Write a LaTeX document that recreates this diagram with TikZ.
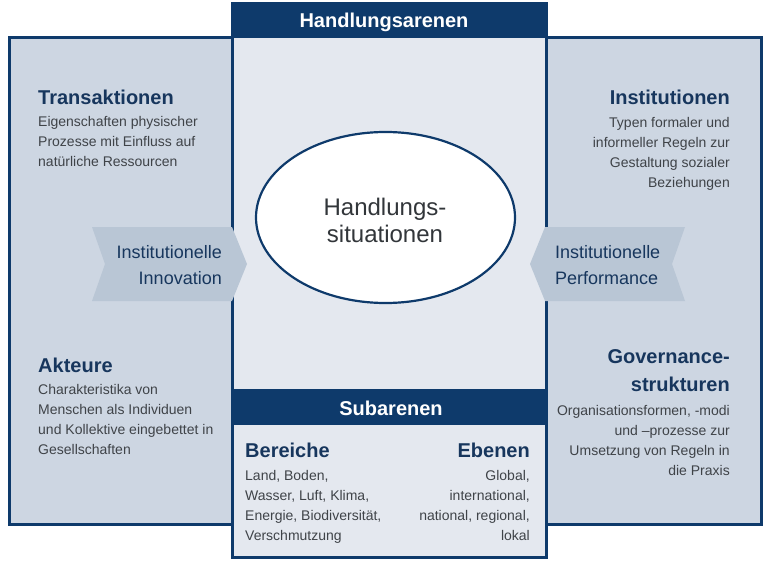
\documentclass[tikz,border=0pt]{standalone}
\usepackage{fontspec}
\setmainfont{Liberation Sans}
\definecolor{navy}{HTML}{0E3A6B}
\definecolor{outerfill}{HTML}{CDD6E2}
\definecolor{innerfill}{HTML}{E4E8EF}
\definecolor{chevfill}{HTML}{B9C6D5}
\definecolor{headtext}{HTML}{17365D}
\definecolor{bodytext}{HTML}{3F4348}
\begin{document}
\begin{tikzpicture}[x=1pt,y=-1pt,
  panel/.style={fill=outerfill,draw=navy,line width=3pt},
  arena/.style={fill=innerfill},
  arenaborder/.style={draw=navy,line width=3pt},
  bar/.style={fill=navy},
  chev/.style={fill=chevfill},
  head/.style={font=\fontsize{20}{28}\selectfont\bfseries,text=headtext,inner sep=0pt},
  body/.style={font=\fontsize{14}{20}\selectfont,text=bodytext,inner sep=0pt},
  chevtext/.style={font=\fontsize{18}{26}\selectfont,text=headtext,inner sep=0pt},
  bartext/.style={font=\fontsize{20}{24}\selectfont\bfseries,text=white,inner sep=0pt},
  situ/.style={font=\fontsize{24}{27}\selectfont,text=bodytext!80!black,inner sep=0pt,align=center}]
\useasboundingbox (0,0) rectangle (768,564);
\fill[white] (0,0) rectangle (768,564);
% outer panel
\draw[panel] (9.5,38) rectangle (761,524);
% central arena
\fill[arena] (232,4) rectangle (546,557);
\fill[bar] (232,4) rectangle (546,38);
\fill[bar] (232,389) rectangle (546,425);
\draw[arenaborder] (232,4) rectangle (546,557);
% chevrons
\fill[chev] (92,227) -- (232,227) -- (247,264) -- (232,301) -- (92,301) -- (105,264) -- cycle;
\fill[chev] (545,227) -- (685,227) -- (672,264) -- (685,301) -- (545,301) -- (530,264) -- cycle;
% ellipse
\draw[navy,line width=2.2pt,fill=white] (385.5,217.5) ellipse [x radius=129.5,y radius=85.5];
\node[situ,anchor=base] (situ) at (385,242) {Handlungs-\\situationen};
% header texts
\node[bartext,anchor=base] (arenen) at (384,28) {Handlungsarenen};
\node[bartext,anchor=base] (sub) at (391,415) {Subarenen};
% left side
\node[head,anchor=base west] (trans) at (38,105) {Transaktionen};
\node[body,anchor=base west,align=left] (transb) at (38,167) {Eigenschaften physischer\\Prozesse mit Einfluss auf\\natürliche Ressourcen};
\node[head,anchor=base west] (akt) at (38,372) {Akteure};
\node[body,anchor=base west,align=left] (aktb) at (38,454) {Charakteristika von\\Menschen als Individuen\\und Kollektive eingebettet in\\Gesellschaften};
% right side
\node[head,anchor=base east] (inst) at (730,105) {Institutionen};
\node[body,anchor=base east,align=right] (instb) at (730,188) {Typen formaler und\\informeller Regeln zur\\Gestaltung sozialer\\Beziehungen};
\node[head,anchor=base east,align=right] (gov) at (730,391) {Governance-\\strukturen};
\node[body,anchor=base east,align=right] (govb) at (730,475) {Organisationsformen, -modi\\und –prozesse zur\\Umsetzung von Regeln in\\die Praxis};
% chevron labels
\node[chevtext,anchor=base east,align=right] (innov) at (222,284) {Institutionelle\\Innovation};
\node[chevtext,anchor=base west,align=left] (perf) at (555,284) {Institutionelle\\Performance};
% subarenas
\node[head,anchor=base west] (ber) at (245,457) {Bereiche};
\node[body,anchor=base west,align=left] (berb) at (245,540) {Land, Boden,\\Wasser, Luft, Klima,\\Energie, Biodiversität,\\Verschmutzung};
\node[head,anchor=base east] (ebe) at (530,457) {Ebenen};
\node[body,anchor=base east,align=right] (ebeb) at (530,540) {Global,\\international,\\national, regional,\\lokal};
\end{tikzpicture}
\end{document}
